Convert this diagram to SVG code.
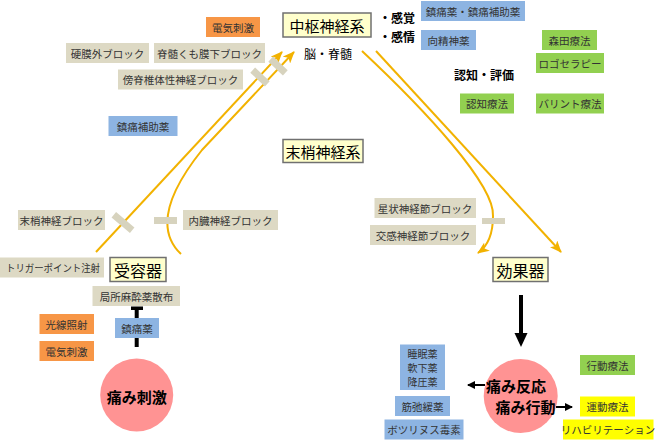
<svg xmlns="http://www.w3.org/2000/svg" width="660" height="443" viewBox="0 0 660 443">
<defs>
<style>
text{font-family:"Noto Sans CJK JP","Liberation Sans",sans-serif;text-anchor:middle;dominant-baseline:central}
.g{fill:#DDD9C4}
.b{fill:#8DB4E2}
.o{fill:#F79646}
.gr{fill:#92D050}
.y{fill:#FFFF00}
.nd{fill:#FFFFCC;stroke:#707070;stroke-width:1.5}
.t{font-size:10.5px;fill:#333}
.n{font-size:15px;fill:#000}
.lb{font-size:12px;fill:#000;font-weight:bold}
.c{fill:#FF9393}
.ct{font-size:15px;fill:#000;font-weight:bold}
.ar{fill:none;stroke:#F2B200;stroke-width:2}
.mk{fill:#D7D3BE}
</style>
<marker id="ah" viewBox="0 0 12 10" refX="11" refY="5" markerWidth="12" markerHeight="10" markerUnits="userSpaceOnUse" orient="auto">
<path d="M0,0 L12,5 L0,10 L3,5 Z" fill="#F2B200"/>
</marker>
<marker id="bh" viewBox="0 0 8 8" refX="7" refY="4" markerWidth="8" markerHeight="8" markerUnits="userSpaceOnUse" orient="auto">
<path d="M0,0 L8,4 L0,8 Z" fill="#000"/>
</marker>
</defs>
<rect width="660" height="443" fill="#fff"/>

<g id="connectors">
<path class="ar" d="M96,252 L282,52" marker-end="url(#ah)"/>
<path class="ar" d="M181,254 C162,236 158,205 202,150 L294,52" marker-end="url(#ah)"/>
<path class="ar" d="M362,51 C425,110 495,185 493,216 C493,235 488,246 478,253" marker-end="url(#ah)"/>
<path class="ar" d="M376,51 L561,252" marker-end="url(#ah)"/>
<rect class="mk" x="-10" y="-3.5" width="20" height="7" transform="translate(260,77) rotate(43)"/>
<rect class="mk" x="-10" y="-3.5" width="20" height="7" transform="translate(278,66) rotate(43)"/>
<rect class="mk" x="-12" y="-3.5" width="24" height="7" transform="translate(123,222.5) rotate(40)"/>
<rect class="mk" x="154" y="217" width="23" height="7"/>
<rect class="mk" x="482" y="218" width="23" height="6"/>
<line x1="521" y1="295" x2="521" y2="334" stroke="#000" stroke-width="4"/>
<path d="M514.5,333 L527.5,333 L521,347 Z" fill="#000"/>
<line x1="136.7" y1="347" x2="136.7" y2="309" stroke="#000" stroke-width="4"/>
<rect x="131" y="306.5" width="12" height="3.5" fill="#000"/>
<line x1="485" y1="385" x2="468" y2="385" stroke="#000" stroke-width="2" marker-end="url(#bh)"/>
<line x1="556" y1="407" x2="572" y2="407" stroke="#000" stroke-width="2" marker-end="url(#bh)"/>
</g>

<g id="central">
<rect class="nd" x="283" y="13" width="88" height="24"/>
<text class="n" x="327" y="25">中枢神経系</text>
<text class="lb" x="328" y="53" style="font-weight:normal">脳・脊髄</text>
</g>
<g id="senses">
<text class="lb" x="397" y="17">・感覚</text>
<text class="lb" x="397" y="36">・感情</text>
</g>
<g id="cognition"><text class="lb" x="484" y="74">認知・評価</text></g>
<g id="peripheral">
<rect class="nd" x="283" y="139.5" width="80" height="23"/>
<text class="n" x="323" y="151">末梢神経系</text>
</g>
<g id="receptor">
<rect class="nd" x="110" y="257.5" width="56" height="24"/>
<text class="n" x="138" y="269.5" style="font-size:16px">受容器</text>
</g>
<g id="effector">
<rect class="nd" x="493" y="257.5" width="55" height="24"/>
<text class="n" x="520.5" y="269.5" style="font-size:16px">効果器</text>
</g>

<g id="box-denki1"><rect class="o" x="206" y="17" width="54" height="20"/><text class="t" x="233" y="27">電気刺激</text></g>
<g id="box-komaku"><rect class="g" x="66" y="43" width="83" height="20"/><text class="t" x="107.5" y="53">硬膜外ブロック</text></g>
<g id="box-sekizui"><rect class="g" x="154" y="43" width="111" height="20"/><text class="t" x="209.5" y="53">脊髄くも膜下ブロック</text></g>
<g id="box-bosekitsui"><rect class="g" x="118" y="69.5" width="125" height="20"/><text class="t" x="180.5" y="79.5">傍脊椎体性神経ブロック</text></g>
<g id="box-hojo1"><rect class="b" x="108.5" y="116" width="69" height="20"/><text class="t" x="143" y="126">鎮痛補助薬</text></g>
<g id="box-chintsu2"><rect class="b" x="421" y="1" width="104" height="20"/><text class="t" x="473" y="11">鎮痛薬・鎮痛補助薬</text></g>
<g id="box-kosei"><rect class="b" x="421" y="30" width="55" height="20"/><text class="t" x="448.5" y="40">向精神薬</text></g>
<g id="box-morita"><rect class="gr" x="542" y="30" width="55" height="20"/><text class="t" x="569.5" y="40">森田療法</text></g>
<g id="box-logo"><rect class="gr" x="536" y="53" width="68" height="20"/><text class="t" x="570" y="63">ロゴセラピー</text></g>
<g id="box-ninchi"><rect class="gr" x="460" y="93.5" width="54" height="20"/><text class="t" x="487" y="103.5">認知療法</text></g>
<g id="box-balint"><rect class="gr" x="536" y="93.5" width="68" height="20"/><text class="t" x="570" y="103.5">バリント療法</text></g>
<g id="box-masshou"><rect class="g" x="18" y="210" width="87" height="20"/><text class="t" x="61.5" y="220">末梢神経ブロック</text></g>
<g id="box-naizo"><rect class="g" x="183" y="210" width="95" height="20"/><text class="t" x="230.5" y="220">内臓神経ブロック</text></g>
<g id="box-seijo"><rect class="g" x="374.5" y="198" width="101.5" height="20"/><text class="t" x="425" y="208">星状神経節ブロック</text></g>
<g id="box-kokan"><rect class="g" x="370" y="225" width="106" height="20"/><text class="t" x="423" y="235">交感神経節ブロック</text></g>
<g id="box-trigger"><rect class="g" x="0" y="257.5" width="104" height="20"/><text class="t" x="53" y="267.5" textLength="94" lengthAdjust="spacingAndGlyphs" style="font-size:10px">トリガーポイント注射</text></g>
<g id="box-kyokusho"><rect class="g" x="92.5" y="286" width="87.5" height="20"/><text class="t" x="136.5" y="296">局所麻酔薬散布</text></g>
<g id="box-chintsu1"><rect class="b" x="115" y="318" width="44" height="20"/><text class="t" x="137" y="328">鎮痛薬</text></g>
<g id="box-kosen"><rect class="o" x="39.5" y="314" width="54.5" height="20"/><text class="t" x="66.5" y="324">光線照射</text></g>
<g id="box-denki2"><rect class="o" x="39.5" y="341" width="54.5" height="20"/><text class="t" x="66.5" y="351">電気刺激</text></g>
<g id="box-suimin"><rect class="b" x="400" y="344.5" width="45" height="45.5"/><text class="t" x="422.5" y="353" style="font-size:10px">睡眠薬</text><text class="t" x="422.5" y="367" style="font-size:10px">軟下薬</text><text class="t" x="422.5" y="381" style="font-size:10px">降圧薬</text></g>
<g id="box-kinshi"><rect class="b" x="395" y="396" width="55" height="20"/><text class="t" x="422.5" y="406">筋弛緩薬</text></g>
<g id="box-botox"><rect class="b" x="384.5" y="419.5" width="79" height="20"/><text class="t" x="424" y="429.5">ボツリヌス毒素</text></g>
<g id="box-kodo"><rect class="gr" x="580" y="355" width="55" height="20"/><text class="t" x="607.5" y="365">行動療法</text></g>
<g id="box-undo"><rect class="y" x="580" y="396.5" width="55" height="20"/><text class="t" x="607.5" y="406.5">運動療法</text></g>
<g id="box-reha"><rect class="y" x="563" y="419.5" width="90.5" height="20"/><text class="t" x="608" y="429.5">リハビリテーション</text></g>

<g id="pain-stimulus">
<circle class="c" cx="136.7" cy="395" r="36.5"/>
<text class="ct" x="136.7" y="396">痛み刺激</text>
</g>
<g id="pain-response">
<circle class="c" cx="520.7" cy="396" r="37"/>
<text class="ct" x="516" y="385">痛み反応</text>
<text class="ct" x="525.5" y="406">痛み行動</text>
</g>
</svg>
